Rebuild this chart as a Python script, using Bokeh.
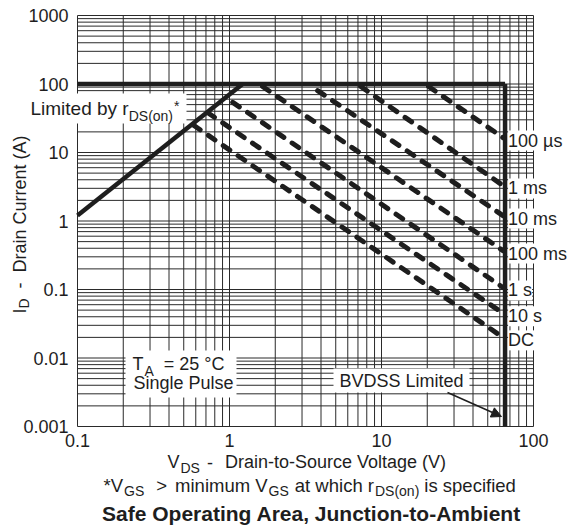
import numpy as np
from bokeh.plotting import figure
from bokeh.models import (ColumnDataSource, LabelSet, Label, Arrow, NormalHead, Range1d)
from bokeh.core.properties import value
from bokeh.embed import file_html
from bokeh.resources import INLINE

# ---------------- data ----------------
x_tick_values = [0.1, 1, 10, 100]
x_tick_labels = ["0.1", "1", "10", "100"]
y_tick_values = [0.001, 0.01, 0.1, 1, 10, 100, 1000]
y_tick_labels = ["0.001", "0.01", "0.1", "1", "10", "100", "1000"]

rds_v = [0.1, 1.22]          # Limited by rDS(on)
rds_i = [1.2, 100]
limit_v = [0.1, 65]          # current limit
limit_i = [100, 100]
bvdss_v = [65, 65]           # BVDSS limit
bvdss_i = [100, 0.001]

pulse_names = ["100 µs", "1 ms", "10 ms", "100 ms", "1 s", "10 s", "DC"]
pulse_v_start = [20.4, 7.3, 3.8, 1.65, 1.05, 0.72, 0.58]
pulse_i_start = [92, 92, 80, 92, 54, 38, 25]
pulse_v_end = [63, 63, 63, 63, 63, 63, 63]
pulse_i_end = [16.5, 3.3, 1.2, 0.37, 0.107, 0.045, 0.02]

# ---------------- style / geometry ----------------
INK = "#1e1e1e"
GRID = "#2a2a2a"
FONT = "Liberation Sans"
W, H = 571, 527
PX_X0, PX_DEC_X = 77.0, 152.0      # pixel of 0.1 V, pixels per decade
PX_Y0, PX_DEC_Y = 15.0, 68.5       # pixel of 1000 A, pixels per decade
xlo = 10 ** (-1 - PX_X0 / PX_DEC_X)
xhi = 10 ** (-1 + (W - PX_X0) / PX_DEC_X)
yhi = 10 ** (3 + PX_Y0 / PX_DEC_Y)
ylo = 10 ** (3 - (H - PX_Y0) / PX_DEC_Y)

p = figure(width=W, height=H, x_axis_type="log", y_axis_type="log",
           x_range=Range1d(xlo, xhi), y_range=Range1d(ylo, yhi),
           x_axis_location=None, y_axis_location=None,
           output_backend="svg", toolbar_location=None,
           min_border_left=0, min_border_right=0, min_border_top=0, min_border_bottom=0)
p.background_fill_color = "white"
p.border_fill_color = "white"
p.outline_line_color = None
p.grid.visible = False


def X(px):
    return 10 ** (-1 + (px - PX_X0) / PX_DEC_X)


def Y(py):
    return 10 ** (3 - (py - PX_Y0) / PX_DEC_Y)


# ---------------- grid (log decades, minor at 2..9) ----------------
x_minor = [m * 10.0 ** k for k in range(-1, 2) for m in range(2, 10)]
y_minor = [m * 10.0 ** k for k in range(-3, 3) for m in range(2, 10)]
gx = x_tick_values + x_minor
gy = y_tick_values + y_minor
x_lo, x_hi = x_tick_values[0], x_tick_values[-1]
y_lo, y_hi = y_tick_values[0], y_tick_values[-1]
p.segment(x0=gx, y0=[y_lo] * len(gx), x1=gx, y1=[y_hi] * len(gx),
          line_color=GRID, line_width=1, level="underlay")
p.segment(x0=[x_lo] * len(gy), y0=gy, x1=[x_hi] * len(gy), y1=gy,
          line_color=GRID, line_width=1, level="underlay")

# tick labels
p.text(x=x_tick_values, y=[y_lo] * len(x_tick_values), text=x_tick_labels,
       text_font=value(FONT), text_font_size=value("18px"), text_color=INK,
       text_align="center", text_baseline="top", y_offset=7)
p.text(x=[x_lo] * len(y_tick_values), y=y_tick_values, text=y_tick_labels,
       text_font=value(FONT), text_font_size=value("18px"), text_color=INK,
       text_align="right", text_baseline="middle", x_offset=-9)

# white backgrounds behind in-plot notes
p.quad(left=[X(26), X(125), X(333)], right=[X(186), X(236), X(469)],
       top=[Y(93), Y(350), Y(368)], bottom=[Y(123), Y(397), Y(392)],
       fill_color="white", line_color=None)

# ---------------- lines ----------------
p.line(rds_v, rds_i, line_color=INK, line_width=4.5)
p.line(limit_v, limit_i, line_color=INK, line_width=4.5)
p.line(bvdss_v, bvdss_i, line_color=INK, line_width=4.5)

xs = [[a, b] for a, b in zip(pulse_v_start, pulse_v_end)]
ys = [[a, b] for a, b in zip(pulse_i_start, pulse_i_end)]
p.multi_line(xs, ys, line_color=INK, line_width=5, line_dash="8 10", line_cap="round")

# ---------------- text helpers ----------------
AW = {' ': 278, '(': 333, ')': 333, '*': 389, ',': 278, '-': 333, '.': 278, '=': 584, '>': 584,
      'A': 667, 'B': 667, 'C': 722, 'D': 722, 'G': 778, 'I': 278, 'J': 500, 'L': 556, 'O': 778,
      'P': 667, 'S': 667, 'T': 611, 'V': 667, 'a': 556, 'b': 556, 'c': 500, 'd': 556, 'e': 556,
      'f': 278, 'g': 556, 'h': 556, 'i': 222, 'l': 222, 'm': 833, 'n': 556, 'o': 556, 'p': 556,
      'r': 333, 's': 500, 't': 278, 'u': 556, 'v': 500, 'w': 722, 'y': 500, '°': 400, 'µ': 576}
for d in "0123456789":
    AW[d] = 556


def tw(s, size):
    return sum(AW.get(c, 556) for c in s) * size / 1000.0


def label(text, px, base_py, size, align="left", bold=False):
    # base_py is the wanted baseline; text is anchored on its middle
    p.add_layout(Label(x=X(px), y=Y(base_py - 0.35 * size), text=text, text_font=FONT,
                       text_font_size=f"{size}px", text_color=INK, text_align=align,
                       text_baseline="middle",
                       text_font_style="bold" if bold else "normal"))


def vlabel(text, mid_px, start_py, size):
    p.add_layout(Label(x=X(mid_px), y=Y(start_py), text=text, text_font=FONT,
                       text_font_size=f"{size}px", text_color=INK, text_align="left",
                       text_baseline="middle", angle=np.pi / 2))


def chain(pieces, left_px, base_py):
    # pieces: (text, size, baseline shift, gap before)
    x = left_px
    for t, s, dy, gap in pieces:
        x += gap
        label(t, x, base_py + dy, s)
        x += tw(t, s)


# Limited by rDS(on)*
chain([("Limited by r", 19, 0, 0), ("DS(on)", 14, 5, 0), ("*", 14, -5, 1)], 30, 115)

# TA = 25 °C, Single Pulse
chain([("T", 18, 0, 0), ("A", 14, 5, 1), ("= 25 °C", 18, 0, 10)], 132, 370)
label("Single Pulse", 183, 389, 18, align="center")

# BVDSS Limited + arrow
label("BVDSS Limited", 401, 387, 18, align="center")
p.add_layout(Arrow(x_start=X(447), y_start=Y(392), x_end=X(501), y_end=Y(416),
                   end=NormalHead(size=10, fill_color=INK, line_color=INK, line_width=1),
                   line_color=INK, line_width=1.5))

# right-hand pulse labels
src = ColumnDataSource(dict(x=bvdss_v[:1] * len(pulse_names), y=pulse_i_end, name=pulse_names))
p.add_layout(LabelSet(x="x", y="y", text="name", source=src, x_offset=3, y_offset=-3,
                      text_baseline="middle", text_font=value(FONT),
                      text_font_size=value("18px"), text_color=INK,
                      background_fill_color="white"))

# y axis title (rotated): I_D  -  Drain Current (A)
vlabel("I", 19, 313, 18)
vlabel("D", 23, 313 - tw("I", 18), 14)
vlabel("-", 19, 288, 18)
vlabel("Drain Current (A)", 19, 272, 18)

# x axis title: V_DS  -  Drain-to-Source Voltage (V)
chain([("V", 18, 0, 0), ("DS", 14, 4, 1), ("-", 18, 0, 7), ("Drain-to-Source Voltage (V)", 18, 0, 12)],
      167, 468)
# footnote
chain([("*V", 18.5, 0, 0), ("GS", 14, 4, 1), (">", 18.5, 0, 12), ("minimum V", 18.5, 0, 8),
       ("GS", 14, 4, 1), ("at which r", 18.5, 0, 6), ("DS(on)", 14, 4, 1), ("is specified", 18.5, 0, 5)],
      103, 491)
# caption
label("Safe Operating Area, Junction-to-Ambient", 311, 520, 21, align="center", bold=True)

open("out.html", "w").write(file_html(p, INLINE))
